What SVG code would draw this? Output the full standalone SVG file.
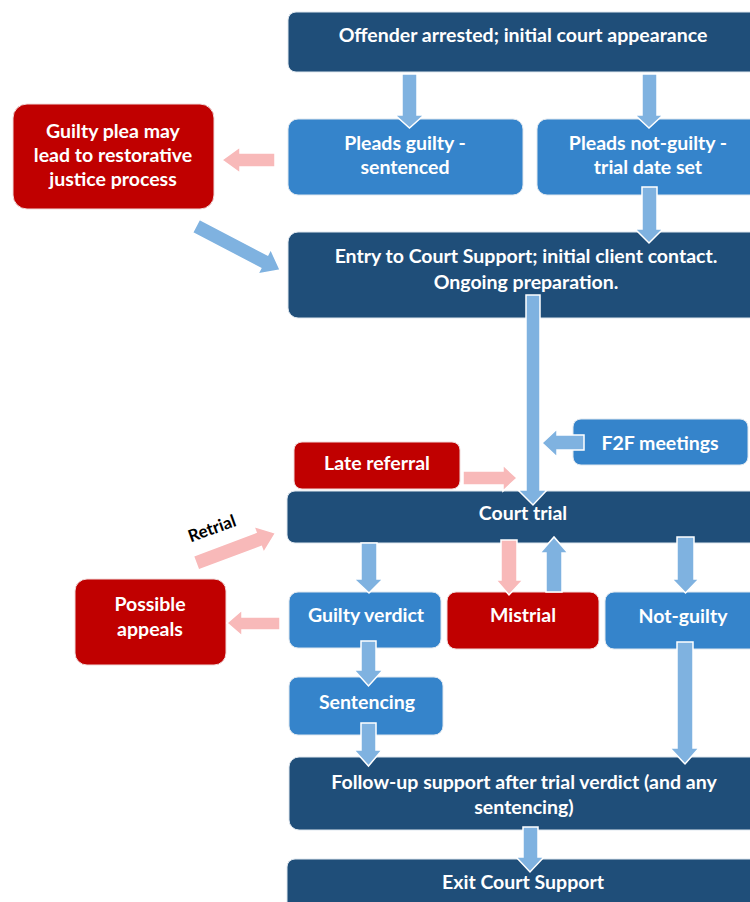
<svg xmlns="http://www.w3.org/2000/svg" width="750" height="902" viewBox="0 0 750 902">
<style>
.dk{fill:#1F4E79;stroke:#dfe7ef;stroke-width:1}
.md{fill:#3584CB;stroke:#dfe7ef;stroke-width:1}
.rd{fill:#C00000;stroke:#f0dada;stroke-width:1}
.t{font-family:Lato,"Liberation Sans",sans-serif;font-weight:bold;font-size:19.5px;fill:#ffffff;text-anchor:middle}
.ab{fill:#7FB2E0;stroke:#ffffff;stroke-width:1.5}
.ap{fill:#F8B9B9;stroke:#ffffff;stroke-width:1.5}
.lbl{font-family:Lato,"Liberation Sans",sans-serif;font-weight:bold;font-size:17px;fill:#000000;text-anchor:middle}
</style>
<rect width="750" height="902" fill="#ffffff"/>
<g id="n-arrested"><rect class="dk" x="288" y="12" width="472" height="60" rx="8"/><text class="t" x="523" y="42">Offender arrested; initial court appearance</text></g>
<g id="n-pleads-guilty"><rect class="md" x="288" y="119" width="235" height="76" rx="10"/><text class="t" x="405" y="150">Pleads guilty -</text><text class="t" x="405" y="174">sentenced</text></g>
<g id="n-pleads-not-guilty"><rect class="md" x="537" y="119" width="223" height="76" rx="10"/><text class="t" x="648" y="150">Pleads not-guilty -</text><text class="t" x="648" y="174">trial date set</text></g>
<g id="n-restorative"><rect class="rd" x="13" y="104" width="201" height="105" rx="14"/><text class="t" x="113" y="138">Guilty plea may</text><text class="t" x="113" y="162">lead to restorative</text><text class="t" x="113" y="186">justice process</text></g>
<g id="n-entry"><rect class="dk" x="288" y="232" width="472" height="86" rx="10"/><text class="t" x="526" y="263">Entry to Court Support; initial client contact.</text><text class="t" x="526" y="289">Ongoing preparation.</text></g>
<g id="n-f2f"><rect class="md" x="573" y="419" width="175" height="46" rx="8"/><text class="t" x="660" y="450">F2F meetings</text></g>
<g id="n-late"><rect class="rd" x="294" y="442" width="166" height="47" rx="8"/><text class="t" x="377" y="470">Late referral</text></g>
<g id="n-trial"><rect class="dk" x="287" y="491" width="473" height="52" rx="8"/><text class="t" x="523" y="520">Court trial</text></g>
<g id="n-appeals"><rect class="rd" x="75" y="579" width="151" height="86" rx="12"/><text class="t" x="150" y="611">Possible</text><text class="t" x="150" y="636">appeals</text></g>
<g id="n-guilty"><rect class="md" x="289" y="592" width="152" height="56" rx="9"/><text class="t" x="366" y="622">Guilty verdict</text></g>
<g id="n-mistrial"><rect class="rd" x="447" y="592" width="152" height="57" rx="9"/><text class="t" x="523" y="622">Mistrial</text></g>
<g id="n-notguilty"><rect class="md" x="605" y="592" width="155" height="57" rx="9"/><text class="t" x="683" y="623">Not-guilty</text></g>
<g id="n-sentencing"><rect class="md" x="289" y="677" width="154" height="58" rx="9"/><text class="t" x="367" y="709">Sentencing</text></g>
<g id="n-followup"><rect class="dk" x="289" y="757" width="471" height="73" rx="10"/><text class="t" x="524" y="789">Follow-up support after trial verdict (and any</text><text class="t" x="524" y="814">sentencing)</text></g>
<g id="n-exit"><rect class="dk" x="287" y="859" width="473" height="60" rx="8"/><text class="t" x="523" y="889">Exit Court Support</text></g>
<g id="connectors">
<polygon class="ab" points="402,74 417,74 417,115 424,115 409.5,128 395,115 402,115"/>
<polygon class="ab" points="642,74 657,74 657,115 663,115 649,128 635,115 642,115"/>
<polygon class="ab" points="642,187 657,187 657,229 663,229 649,243 635,229 642,229"/>
<polygon class="ap" points="275,153 240,153 240,147 222,160 240,173 240,167 275,167"/>
<polygon class="ab" transform="translate(196,226) rotate(27.6)" points="0,-7.5 77,-7.5 77,-14 95,0 77,14 77,7.5 0,7.5"/>
<polygon class="ab" points="526,295 540,295 540,490 547,490 533,505 518,490 526,490"/>
<polygon class="ab" points="584,435 557,435 557,429 542,443 557,457 557,450 584,450"/>
<polygon class="ap" points="463,471 503,471 503,465 517,478 503,491 503,485 463,485"/>
<polygon class="ap" transform="translate(196,563) rotate(-20.6)" points="0,-7.5 67,-7.5 67,-14 85,0 67,14 67,7.5 0,7.5"/>
<text class="lbl" x="214" y="534" transform="rotate(-20 214 534)">Retrial</text>
<polygon class="ab" points="361,543 377,543 377,579 383,579 369,593 354,579 361,579"/>
<polygon class="ap" points="501,540 517,540 517,580 523,580 509,595 496,580 501,580"/>
<polygon class="ab" points="546,592 562,592 562,553 568,553 554,537 540,553 546,553"/>
<polygon class="ab" points="677,537 694,537 694,579 699,579 685.5,593 672,579 677,579"/>
<polygon class="ap" points="280,617 242,617 242,610 227,623 242,636 242,630 280,630"/>
<polygon class="ab" points="361,641 376,641 376,670 383,670 368.5,686 354,670 361,670"/>
<polygon class="ab" points="361,723 376,723 376,750 382,750 368.5,766 354,750 361,750"/>
<polygon class="ab" points="677,642 693,642 693,748 699,748 685,764 670,748 677,748"/>
<polygon class="ab" points="523,827 538,827 538,857 544,857 530,872 516,857 523,857"/>
</g>
</svg>
